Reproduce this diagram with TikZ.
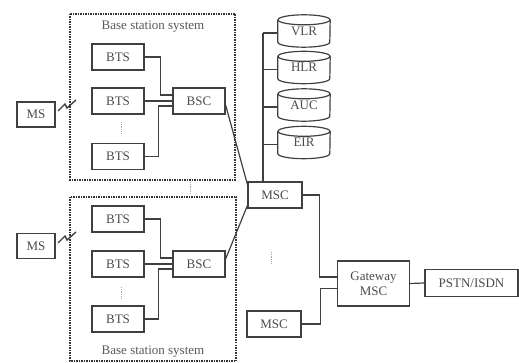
\documentclass[tikz,border=0pt]{standalone}
\usepackage{fontspec}
\setmainfont{Liberation Serif}
\begin{document}
\begin{tikzpicture}[x=1pt,y=-1pt,
  line/.style={draw=black!75,line width=1.2pt},
  box/.style={line,rectangle,minimum width=52pt,minimum height=26pt,inner sep=0pt,text=black!70,font=\fontsize{13}{15}\selectfont},
  wire/.style={line},
  dbnode/.style={rectangle,minimum width=52pt,minimum height=32pt,inner sep=0pt,text=black!70,font=\fontsize{13}{15}\selectfont},
  bss/.style={draw=black!80,line width=1.5pt,densely dotted},
  lbl/.style={text=black!65,font=\fontsize{13}{15}\selectfont,inner sep=0pt},
  vdots/.style={draw=black!35,line width=0.8pt,densely dotted}]
\useasboundingbox (0,0) rectangle (519,363);
\fill[white] (0,0) rectangle (519,363);
% base station system boxes
\draw[bss] (70,14) rectangle (235,180);
\draw[bss] (70,197) rectangle (236,361);
\node[lbl] (l1) at (153,27) {Base station system};
\node[lbl] (l2) at (153,352) {Base station system};
% top BSS
\node[box] (bts1) at (118,57) {BTS};
\node[box] (bts2) at (118,101) {BTS};
\node[box] (bts3) at (118,156.5) {BTS};
\node[box] (bsc1) at (199,101) {BSC};
\node[box,minimum width=38pt,minimum height=25pt] (ms1) at (36,114.5) {MS};
% bottom BSS
\node[box] (bts4) at (118,219) {BTS};
\node[box] (bts5) at (118,264) {BTS};
\node[box] (bts6) at (118,319) {BTS};
\node[box] (bsc2) at (199,264) {BSC};
\node[box,minimum width=38pt,minimum height=25pt] (ms2) at (36,246) {MS};
% vertical ellipses
\draw[vdots] (121,122) -- (121,133);
\draw[vdots] (121,287) -- (121,298);
\draw[vdots] (190,182) -- (190,194);
\draw[vdots] (271,252) -- (271,264);
% databases
\node[dbnode] (vlr) at (304,31) {VLR};
\node[dbnode] (hlr) at (304,67.5) {HLR};
\node[dbnode] (auc) at (304,105) {AUC};
\node[dbnode] (eir) at (304,142.5) {EIR};
\foreach \n in {vlr,hlr,auc,eir}{
  \draw[line] ([yshift=-5pt]\n.north west) -- ([yshift=5pt]\n.south west)
    arc[start angle=180,end angle=360,x radius=26pt,y radius=5pt]
    -- ([yshift=-5pt]\n.north east);
  \draw[line] ([yshift=-5pt]\n.north) ellipse [x radius=26pt,y radius=5pt];
}
% MSCs
\node[box,minimum width=54pt] (msc1) at (275,195) {MSC};
\node[box,minimum width=54pt] (msc2) at (274,324) {MSC};
\node[box,minimum width=72pt,minimum height=45pt,align=center] (gw) at (373.5,283.5) {Gateway\\MSC};
\node[box,minimum width=93pt,minimum height=27pt,line width=1.7pt] (pstn) at (471.5,283) {PSTN/ISDN};
% wires top
\draw[wire] (bts1.east) -- ++(16,0) |- ([yshift=6pt]bsc1.west);
\draw[wire] (bts2.east) -- (bsc1.west);
\draw[wire] (bts3.east) -- ++(14,0) |- ([yshift=-5pt]bsc1.west);
\draw[wire] (bts4.east) -- ++(16,0) |- ([yshift=6pt]bsc2.west);
\draw[wire] (bts5.east) -- (bsc2.west);
\draw[wire] (bts6.east) -- ++(14,0) |- ([yshift=-5pt]bsc2.west);
\draw[wire] ([yshift=-4pt]bsc1.east) -- ([yshift=-3pt]msc1.north west);
\draw[wire] ([yshift=5pt]bsc2.east) -- ([yshift=3pt]msc1.south west);
% bus to databases
\coordinate (bus) at (263,33);
\draw[wire] (bus) -- (bus |- msc1.north);
\foreach \n in {vlr,hlr,auc,eir}{
  \draw[wire] ([yshift=-2pt]bus |- \n.west) -- ([yshift=-2pt]\n.west);
}
% MSC to gateway
\draw[wire] (msc1.east) -- ++(17,0) |- ([yshift=6.5pt]gw.west);
\draw[wire] (msc2.east) -- ++(19,0) |- ([yshift=-5pt]gw.west);
\draw[wire] (gw.east) -- (pstn.west);
% radio links
\coordinate (z1a) at (58,111);
\coordinate (z1b) at (76,100);
\draw[wire,line width=1.4pt] (z1a) -- (65,104) -- (67,108) -- (z1b);
\coordinate (z2a) at (58,243);
\coordinate (z2b) at (76,232);
\draw[wire,line width=1.4pt] (z2a) -- (65,236) -- (67,240) -- (z2b);
\end{tikzpicture}
\end{document}
